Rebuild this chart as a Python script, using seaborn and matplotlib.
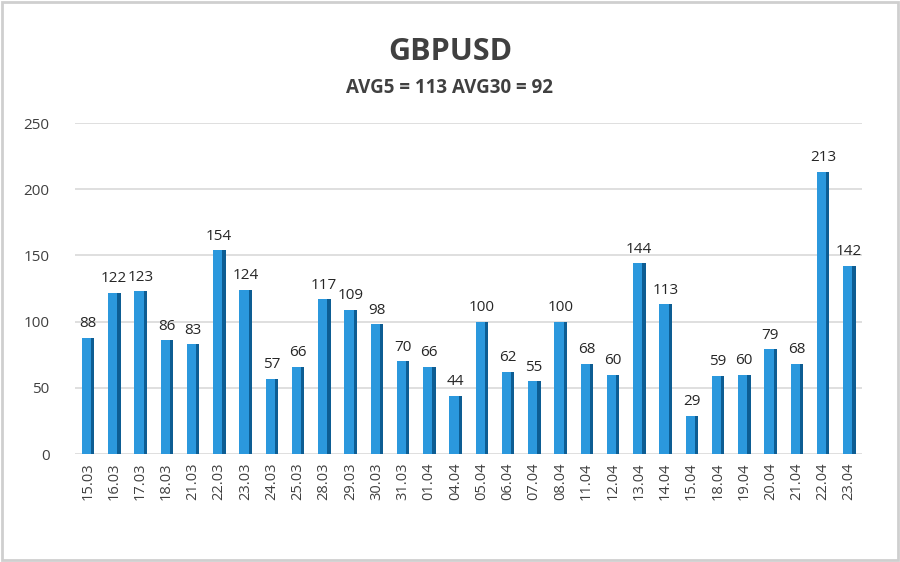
import numpy as np
import pandas as pd
import matplotlib
matplotlib.use("Agg")
import matplotlib.pyplot as plt
import seaborn as sns

# ---- Data ----
dates = ['15.03', '16.03', '17.03', '18.03', '21.03', '22.03', '23.03', '24.03', '25.03',
         '28.03', '29.03', '30.03', '31.03', '01.04', '04.04', '05.04', '06.04', '07.04',
         '08.04', '11.04', '12.04', '13.04', '14.04', '15.04', '18.04', '19.04', '20.04',
         '21.04', '22.04', '23.04']
volatility = [88, 122, 123, 86, 83, 154, 124, 57, 66, 117, 109, 98, 70, 66, 44, 100, 62, 55,
              100, 68, 60, 144, 113, 29, 59, 60, 79, 68, 213, 142]
title = 'GBPUSD'
subtitle = 'AVG5 = 113 AVG30 = 92'
y_ticks = [0, 50, 100, 150, 200, 250]

# ---- Setup ----
sns.set_theme(style="white")
plt.rcParams['font.family'] = ['Open Sans', 'DejaVu Sans']

df = pd.DataFrame({'date': dates, 'value': volatility})

fig = plt.figure(figsize=(9, 5.62), dpi=100)
fig.patch.set_facecolor('white')
ax = fig.add_axes([0.083, 0.192, 0.875, 0.589])

for t in y_ticks:
    ax.axhline(t, color='#d9d9d9', linewidth=1.2, zorder=0)

# front face of the bars (shifted a bit left, side face added on the right)
sns.barplot(data=df, x='date', y='value', color='#2b98dd', width=0.36,
            saturation=1, ax=ax, zorder=2, linewidth=0)
for p in ax.patches:
    p.set_x(p.get_x() - 0.05)
# darker right face for the 3D look
x = np.arange(len(volatility))
ax.bar(x + 0.13, volatility, width=0.12, align='edge', color='#0d5d93', zorder=3, linewidth=0)

for i, v in enumerate(volatility):
    ax.text(i, v + 5, str(v), ha='center', va='bottom', fontsize=11, color='#262626', zorder=4)

ax.set_ylim(0, 250)
ax.set_xlim(-0.5, len(dates) - 0.5)
ax.set_yticks(y_ticks)
ax.set_yticklabels([str(t) for t in y_ticks], fontsize=11, color='#404040')
ax.tick_params(axis='y', pad=18, length=0)
ax.tick_params(axis='x', labelrotation=90, labelsize=10.5, labelcolor='#404040', length=0, pad=6)
ax.set_xlabel('')
ax.set_ylabel('')
for s in ax.spines.values():
    s.set_visible(False)

fig.text(0.5, 0.908, title, ha='center', va='center', fontsize=22, fontweight='bold', color='#404040')
fig.text(0.5, 0.843, subtitle, ha='center', va='center', fontsize=13.5, fontweight='bold', color='#404040')

# light frame around the picture
fig.add_artist(plt.Rectangle((0.002, 0.003), 0.996, 0.994, transform=fig.transFigure,
                             fill=False, edgecolor='#cfcfcf', linewidth=2))

fig.savefig('out.png', dpi=100)
